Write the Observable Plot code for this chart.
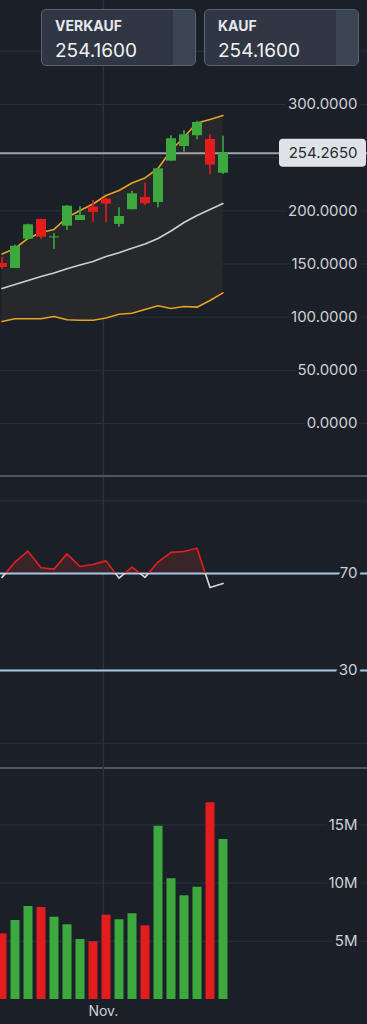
<!DOCTYPE html>
<html><head><meta charset="utf-8">
<script src="https://cdn.jsdelivr.net/npm/d3@7"></script>
<script src="https://cdn.jsdelivr.net/npm/@observablehq/plot@0.6"></script>
<style>
html,body{margin:0;padding:0;background:#1b2028;}
body{width:367px;height:1024px;overflow:hidden;font-family:Inter,"Noto Sans",sans-serif;}
#wrap{position:relative;width:367px;height:1024px;}
.panel svg{display:block;}
#rsi,#vol{border-top:2px solid #4f5561;}
.btn{position:absolute;top:9px;width:155px;height:57px;box-sizing:border-box;border:1.5px solid #5b6371;border-radius:5px;background:#2f3744;overflow:hidden;}
.btn .strip{position:absolute;right:0;top:0;bottom:0;width:22px;background:#3c4554;}
.btn .lbl{position:absolute;left:13px;top:7px;font-size:14px;line-height:18px;font-weight:700;color:#e6e8eb;}
.btn .val{position:absolute;left:13px;top:29px;font-size:19px;line-height:24px;color:#f2f2f2;}
</style></head>
<body><div id="wrap"><div class="panel" id="price"></div><div class="panel" id="rsi"></div><div class="panel" id="vol"></div></div>
<script>
// ---- data ----
const openP  = [150.5,145.8,173.3,191.9,174.5,185.6,190.9,203.5,211.0,187.2,201.0,212.5,207.8,246.7,260.5,270.6,267.1,235.4];
const closeP = [146.7,166.7,186.9,175.2,175.5,204.4,195.6,198.5,206.3,194.7,216.0,206.6,239.5,267.8,271.5,283.1,243.0,254.265];
const highP  = [156.0,167.6,187.5,192.0,178.4,205.0,204.0,209.7,211.5,202.9,218.5,226.0,239.5,270.6,275.6,284.3,271.8,270.2];
const lowP   = [144.8,145.8,172.5,173.3,163.7,181.5,190.9,189.3,189.0,184.6,201.0,205.0,202.9,246.7,255.2,266.8,234.2,234.2];
const bbUpper  = [159.4,164.6,174.0,179.6,182.5,193.7,200.3,206.4,214.4,219.1,226.2,230.9,239.8,256.7,269.4,282.6,285.9,289.7];
const bbMiddle = [127.0,130.7,134.5,138.2,141.5,145.5,149.1,152.4,157.1,160.5,164.9,168.8,174.0,181.0,189.0,195.6,201.3,206.9];
const bbLower  = [95.9,98.5,98.5,98.5,100.6,97.5,97.1,97.1,99.2,102.8,103.7,107.2,110.7,108.2,110.0,109.4,115.7,122.9];
const rsiVals  = [68.4,74.7,79.2,72.4,71.8,78.1,72.9,73.7,75.2,68.1,72.6,68.4,74.7,78.7,79.1,80.4,64.2,65.9];
const volumeM  = [5.64,6.79,7.99,7.90,7.07,6.42,5.15,4.96,7.24,6.85,7.36,6.33,14.89,10.37,8.91,9.65,16.9,13.74];
const lastPrice = 254.265;
const priceLabelTicks = [0,50,100,150,200,300];
const priceGridTicks = [0,50,100,150,200,250,300,350];
const rsiLevels = [70,30];
const rsiGrid = [0,100];
const volTicks = [5e6,10e6,15e6];
const xTicks = [{pos:7.8, label:"Nov."}];
const buttonLabels = ["VERKAUF","KAUF"];
const buttonValues = [254.16, 254.16];

// ---- styles ----
const BG="#1b2028", GRID="#2b323c", GREEN="#3ca83e", RED="#e31d1d", ORANGE="#e8a21f", BLUE="#a9c7e4", TXT="#ced1d6";
const rows = openP.map((o,i)=>({i,o,c:closeP[i],h:highP[i],l:lowP[i],up:bbUpper[i],mid:bbMiddle[i],lo:bbLower[i],rsi:rsiVals[i],vol:volumeM[i]*1e6,color:closeP[i]>=openP[i]?GREEN:RED}));
const X = {type:"linear", domain:[0,rows.length-1], range:[1.5,222.5], axis:null};
const labelStyle = {frameAnchor:"right", dx:-10, textAnchor:"end", fill:TXT, fontSize:15, fontFamily:"Inter", stroke:BG, strokeWidth:7, paintOrder:"stroke", lineAnchor:"middle"};
const common = {width:367, marginTop:0, marginBottom:0, marginLeft:0, marginRight:0, x:X, color:{type:"identity"}, style:{background:"transparent", fontFamily:"Inter", overflow:"visible"}};

const pricePlot = Plot.plot({...common, height:475,
  y:{domain:[0,300], range:[423,104], axis:null},
  marks:[
    Plot.ruleY(priceGridTicks,{stroke:GRID}),
    Plot.ruleX(xTicks,{x:"pos", stroke:GRID, strokeWidth:1.5}),
    Plot.areaY(rows,{x:"i", y1:"lo", y2:"up", fill:"#26282b"}),
    Plot.line(rows,{x:"i", y:"mid", stroke:"#cfcfcf", strokeWidth:1.6}),
    Plot.line(rows,{x:"i", y:"up", stroke:ORANGE, strokeWidth:1.6}),
    Plot.line(rows,{x:"i", y:"lo", stroke:ORANGE, strokeWidth:1.6}),
    Plot.ruleY([lastPrice],{stroke:"#a0a5ac", strokeWidth:2}),
    Plot.ruleX(rows,{x:"i", y1:"l", y2:"h", stroke:"color", strokeWidth:1.6}),
    Plot.ruleX(rows,{x:"i", y1:"o", y2:"c", stroke:"color", strokeWidth:10}),
    Plot.text(priceLabelTicks,{...labelStyle, y:d=>d, text:d=>d.toFixed(4)}),
    (index, scales, values, dims) => {
      const y = scales.y(lastPrice);
      const g = d3.create("svg:g");
      g.append("rect").attr("x", dims.width-88).attr("y", y-14).attr("width", 87).attr("height", 28).attr("rx", 4).attr("fill", "#dfe2e6");
      return g.node();
    },
    Plot.text([lastPrice],{frameAnchor:"right", dx:-10, textAnchor:"end", y:d=>d, text:d=>d.toFixed(4), fill:"#262b33", fontSize:15, fontFamily:"Inter", lineAnchor:"middle"})
  ]});
document.getElementById("price").append(pricePlot);

const rsiPlot = Plot.plot({...common, height:290,
  y:{domain:[30,70], range:[193,96], axis:null},
  marks:[
    (index, scales, values, dims) => {
      const y70 = scales.y(rsiLevels[0]);
      const o = y70/dims.height;
      const defs = d3.create("svg:defs");
      const s = defs.append("linearGradient").attr("id","rsiStrokeGrad").attr("gradientUnits","userSpaceOnUse").attr("x1",0).attr("y1",0).attr("x2",0).attr("y2",dims.height);
      s.append("stop").attr("offset",o).attr("stop-color",RED);
      s.append("stop").attr("offset",o).attr("stop-color","#d8d8d8");
      const f = defs.append("linearGradient").attr("id","rsiFillGrad").attr("gradientUnits","userSpaceOnUse").attr("x1",0).attr("y1",0).attr("x2",0).attr("y2",dims.height);
      f.append("stop").attr("offset",o).attr("stop-color","#3a242a");
      f.append("stop").attr("offset",o).attr("stop-color","#3a242a").attr("stop-opacity",0);
      return defs.node();
    },
    Plot.ruleY(rsiGrid,{stroke:GRID}),
    Plot.ruleX(xTicks,{x:"pos", stroke:GRID, strokeWidth:1.5}),
    Plot.areaY(rows,{x:"i", y1:()=>rsiLevels[0], y2:"rsi", fill:"url(#rsiFillGrad)"}),
    Plot.ruleY(rsiLevels,{stroke:BLUE, strokeWidth:2}),
    Plot.line(rows,{x:"i", y:"rsi", stroke:"url(#rsiStrokeGrad)", strokeWidth:1.6}),
    Plot.text(rsiLevels,{...labelStyle, y:d=>d, text:d=>String(d)})
  ]});
document.getElementById("rsi").append(rsiPlot);

const volPlot = Plot.plot({...common, height:255,
  y:{domain:[0,15e6], range:[230,55.4], axis:null},
  marks:[
    Plot.ruleY(volTicks,{stroke:GRID}),
    Plot.ruleX(xTicks,{x:"pos", y1:()=>0, y2:()=>20e6, stroke:GRID, strokeWidth:1.5}),
    Plot.ruleX(rows,{x:"i", y1:()=>0, y2:"vol", stroke:"color", strokeWidth:9}),
    Plot.text(volTicks,{...labelStyle, y:d=>d, text:d=>`${d/1e6}M`}),
    Plot.text(xTicks,{x:"pos", text:"label", frameAnchor:"bottom", dy:-13, lineAnchor:"middle", fill:TXT, fontSize:14, fontFamily:"Inter"})
  ]});
document.getElementById("vol").append(volPlot);

// buttons
const wrap = document.getElementById("wrap");
const btnLeft = [41, 204];
buttonLabels.forEach((lab,k)=>{
  const b = document.createElement("div");
  b.className="btn"; b.style.left=btnLeft[k]+"px";
  b.innerHTML = `<div class="strip"></div><div class="lbl"></div><div class="val"></div>`;
  b.querySelector(".lbl").textContent = lab;
  b.querySelector(".val").textContent = buttonValues[k].toFixed(4);
  wrap.append(b);
});
</script>
</body></html>
